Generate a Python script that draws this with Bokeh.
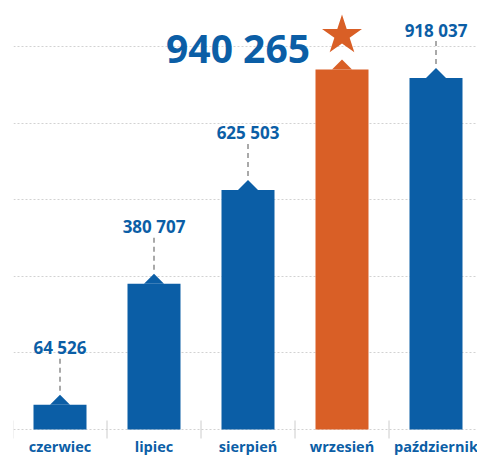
import numpy as np
from bokeh.plotting import figure
from bokeh.models import Range1d, FixedTicker
from bokeh.core.properties import value
from bokeh.embed import file_html
from bokeh.resources import INLINE

# ---- data ----
months = ["czerwiec", "lipiec", "sierpień", "wrzesień", "październik"]
values = [64526, 380707, 625503, 940265, 918037]
value_labels = ["64 526", "380 707", "625 503", "940 265", "918 037"]
highlight = 3  # record month (wrzesień)
grid_values = [0, 200000, 400000, 600000, 800000, 1000000]

BLUE = "#0b5ea6"
ORANGE = "#d95f26"
FONT = value("Open Sans")

# ---- geometry helpers ----
W, H = 477, 457
BASE = 429            # canvas px of the zero line
PXY = 1e6 / 383       # data units per vertical pixel
SLOT = 94             # px per category
LEFT = 13

idx = np.arange(len(months))
vals = np.array(values, dtype=float)
colors = [ORANGE if i == highlight else BLUE for i in idx]

x_start = -0.5 + 0.5 / SLOT
x_end = x_start + (W - LEFT) / SLOT
y_start = -(H - BASE) * PXY
y_end = BASE * PXY

p = figure(width=W, height=H, output_backend="svg", toolbar_location=None,
           x_range=Range1d(x_start, x_end), y_range=Range1d(y_start, y_end),
           x_axis_location=None, y_axis_location=None,
           min_border_left=LEFT, min_border_right=0, min_border_top=0, min_border_bottom=0)
p.outline_line_color = None
p.xgrid.visible = False
p.ygrid.ticker = FixedTicker(ticks=grid_values)
p.ygrid.grid_line_color = "#d2d2d2"
p.ygrid.grid_line_dash = "2 2"
p.ygrid.grid_line_width = 1

# category separator ticks
bx = idx - 0.5
p.segment(x0=bx, y0=-9 * PXY, x1=bx, y1=9 * PXY, line_color="#cccccc", line_width=1)

# bars
p.vbar(x=idx, top=vals, width=53 / SLOT, fill_color=colors, line_color=None)

# little roof triangles on top of bars
hw = 10 / SLOT
xs = [[i - hw, i + hw, i] for i in idx]
ys = [[v, v, v + 10 * PXY] for v in vals]
p.patches(xs, ys, fill_color=colors, line_color=None)

# value labels + dashed leaders (non-highlight)
others = [i for i in idx if i != highlight]
cap = (BASE - 30) * PXY
lab_y = np.minimum(vals[others] + 57 * PXY, cap)
p.segment(x0=idx[others], y0=vals[others] + 14 * PXY, x1=idx[others], y1=lab_y - 7 * PXY,
          line_color="#8c8c8c", line_width=1.5, line_dash="5 4")
p.text(x=idx[others], y=lab_y, text=[value_labels[i] for i in others],
       text_align="center", text_baseline="alphabetic", text_font=FONT,
       text_font_style="bold", text_font_size="17px", text_color=BLUE)

# highlight label and star
hv = vals[highlight]
p.text(x=[highlight - 32 / SLOT], y=[hv + 22 * PXY], text=[value_labels[highlight]],
       text_align="right", text_baseline="alphabetic", text_font=FONT,
       text_font_style="bold", text_font_size="39px", text_color=BLUE)
p.scatter(x=[highlight], y=[hv + 34 * PXY], marker="star", size=42,
          fill_color=ORANGE, line_color=None)

# category labels
p.text(x=idx, y=[-17 * PXY] * len(idx), text=months,
       text_align="center", text_baseline="alphabetic", text_font=FONT,
       text_font_style="bold", text_font_size="14.5px", text_color=BLUE)

open("out.html", "w").write(file_html(p, INLINE))
